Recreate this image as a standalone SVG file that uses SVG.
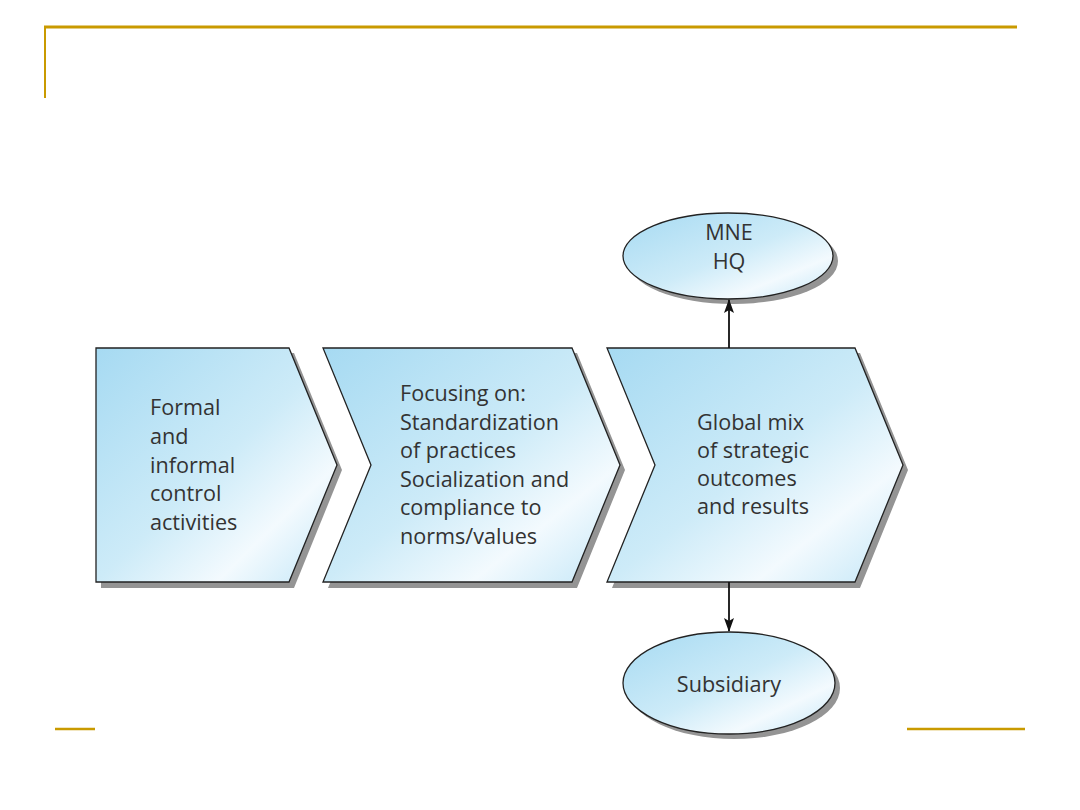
<svg xmlns="http://www.w3.org/2000/svg" width="1080" height="810" viewBox="0 0 1080 810">
<defs>
<linearGradient id="g" x1="0" y1="0" x2="1" y2="1">
<stop offset="0" stop-color="#a6daf2"/>
<stop offset="0.5" stop-color="#cdebf8"/>
<stop offset="0.75" stop-color="#f3fafe"/>
<stop offset="1" stop-color="#c2e6f7"/>
</linearGradient>
<marker id="ah" viewBox="0 0 14 10" refX="13" refY="5" markerWidth="14" markerHeight="10" markerUnits="userSpaceOnUse" orient="auto">
<path d="M0,0 L14,5 L0,10 L3,5 z" fill="#111"/>
</marker>
</defs>
<style>
.shape{fill:url(#g);stroke:#222;stroke-width:1.3}
.shadow{fill:#949494}
.t{font-family:"Open Sans","Noto Sans",sans-serif;font-size:21.6px;fill:#333}
.gold{stroke:#c99a00;fill:none}
.conn{stroke:#111;stroke-width:1.8;fill:none;marker-end:url(#ah)}
</style>
<rect width="1080" height="810" fill="#fff"/>
<g id="frame">
<line class="gold" x1="44" y1="27" x2="1017" y2="27" stroke-width="3"/>
<line class="gold" x1="45" y1="26" x2="45" y2="98" stroke-width="2"/>
<line class="gold" x1="55" y1="729" x2="95" y2="729" stroke-width="2.5"/>
<line class="gold" x1="907" y1="729" x2="1025" y2="729" stroke-width="2.5"/>
</g>
<g id="step1">
<path class="shadow" d="M101,353 L294,353 L342,470 L294,588 L101,588 z"/>
<path class="shape" d="M96,348 L289,348 L337,465 L289,582 L96,582 z"/>
<text class="t"><tspan x="150" y="415">Formal</tspan><tspan x="150" y="444">and</tspan><tspan x="150" y="473">informal</tspan><tspan x="150" y="501">control</tspan><tspan x="150" y="530">activities</tspan></text>
</g>
<g id="step2">
<path class="shadow" d="M328,353 L577,353 L625,470 L577,588 L328,588 L376,470 z"/>
<path class="shape" d="M323,348 L572,348 L620,465 L572,582 L323,582 L371,465 z"/>
<text class="t"><tspan x="400" y="401">Focusing on:</tspan><tspan x="400" y="430">Standardization</tspan><tspan x="400" y="458">of practices</tspan><tspan x="400" y="487">Socialization and</tspan><tspan x="400" y="515">compliance to</tspan><tspan x="400" y="544">norms/values</tspan></text>
</g>
<g id="step3">
<path class="shadow" d="M612,353 L860,353 L908,470 L860,588 L612,588 L660,470 z"/>
<path class="shape" d="M607,348 L855,348 L903,465 L855,582 L607,582 L655,465 z"/>
<text class="t"><tspan x="697" y="430">Global mix</tspan><tspan x="697" y="458">of strategic</tspan><tspan x="697" y="486">outcomes</tspan><tspan x="697" y="514">and results</tspan></text>
</g>
<g id="hq">
<ellipse class="shadow" cx="733" cy="261" rx="105" ry="43"/>
<ellipse class="shape" cx="728" cy="256" rx="105" ry="43"/>
<text class="t" text-anchor="middle"><tspan x="729" y="240">MNE</tspan><tspan x="729" y="269">HQ</tspan></text>
</g>
<g id="subsidiary">
<ellipse class="shadow" cx="734" cy="688" rx="106" ry="51"/>
<ellipse class="shape" cx="729" cy="683" rx="106" ry="51"/>
<text class="t" x="729" y="692" text-anchor="middle">Subsidiary</text>
</g>
<g id="connectors">
<line class="conn" x1="729" y1="348" x2="729" y2="300"/>
<line class="conn" x1="729" y1="582" x2="729" y2="631"/>
</g>
</svg>
